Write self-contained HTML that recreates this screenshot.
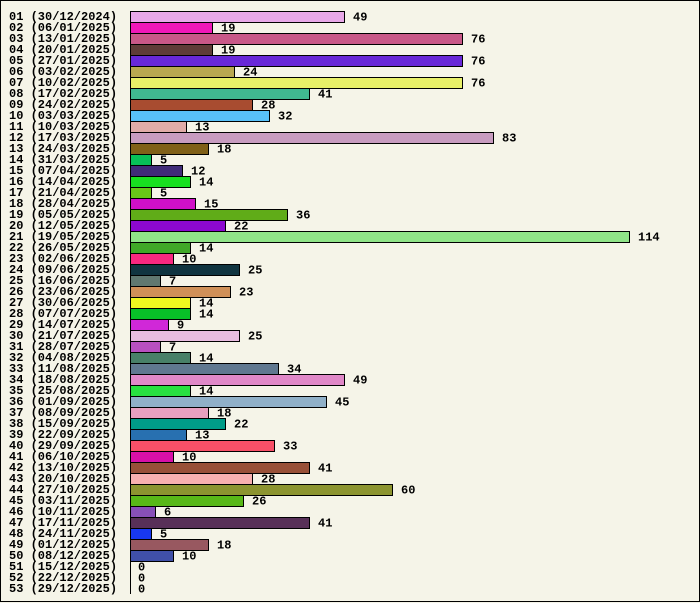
<!DOCTYPE html>
<html><head><meta charset="utf-8"><style>
body{margin:0;background:#f5f4e8}
svg{display:block}
text{font-family:"Liberation Mono",monospace;font-weight:bold;font-size:12px;fill:#000}
</style></head><body>
<svg width="700" height="603" viewBox="0 0 700 603" xmlns="http://www.w3.org/2000/svg">
<rect x="0.5" y="0.5" width="699" height="601" fill="#f5f4e8" stroke="#000"/>
<g id="g"></g>
<line x1="130.5" y1="11" x2="130.5" y2="594" stroke="#000"/>
</svg>
<script>
const d=[
["01 (30/12/2024)",49,"#e8a8e8"],["02 (06/01/2025)",19,"#f018b8"],["03 (13/01/2025)",76,"#c85888"],["04 (20/01/2025)",19,"#5e3c38"],
["05 (27/01/2025)",76,"#6828d8"],["06 (03/02/2025)",24,"#b8a850"],["07 (10/02/2025)",76,"#e8f068"],["08 (17/02/2025)",41,"#40b890"],
["09 (24/02/2025)",28,"#a84c30"],["10 (03/03/2025)",32,"#58c0f8"],["11 (10/03/2025)",13,"#e0aca8"],["12 (17/03/2025)",83,"#c89cc0"],
["13 (24/03/2025)",18,"#806018"],["14 (31/03/2025)",5,"#08c058"],["15 (07/04/2025)",12,"#402c78"],["16 (14/04/2025)",14,"#18e020"],
["17 (21/04/2025)",5,"#68c818"],["18 (28/04/2025)",15,"#d010c8"],["19 (05/05/2025)",36,"#60ac18"],["20 (12/05/2025)",22,"#8c08d0"],
["21 (19/05/2025)",114,"#90e488"],["22 (26/05/2025)",14,"#40a828"],["23 (02/06/2025)",10,"#f82880"],["24 (09/06/2025)",25,"#103440"],
["25 (16/06/2025)",7,"#607870"],["26 (23/06/2025)",23,"#d09058"],["27 (30/06/2025)",14,"#f0f820"],["28 (07/07/2025)",14,"#08c028"],
["29 (14/07/2025)",9,"#d028d8"],["30 (21/07/2025)",25,"#e8bce0"],["31 (28/07/2025)",7,"#b850c0"],["32 (04/08/2025)",14,"#488068"],
["33 (11/08/2025)",34,"#607890"],["34 (18/08/2025)",49,"#e088c8"],["35 (25/08/2025)",14,"#28e040"],["36 (01/09/2025)",45,"#90b0c8"],
["37 (08/09/2025)",18,"#e8a0c0"],["38 (15/09/2025)",22,"#009c88"],["39 (22/09/2025)",13,"#2870b0"],["40 (29/09/2025)",33,"#f85068"],
["41 (06/10/2025)",10,"#d810a8"],["42 (13/10/2025)",41,"#985038"],["43 (20/10/2025)",28,"#f8b0b0"],["44 (27/10/2025)",60,"#8c9430"],
["45 (03/11/2025)",26,"#58b818"],["46 (10/11/2025)",6,"#8850b8"],["47 (17/11/2025)",41,"#583058"],["48 (24/11/2025)",5,"#1838f0"],
["49 (01/12/2025)",18,"#985860"],["50 (08/12/2025)",10,"#4050a8"],["51 (15/12/2025)",0,""],["52 (22/12/2025)",0,""],["53 (29/12/2025)",0,""]];
const k=500/114;let s="";
d.forEach((r,i)=>{const y=11+i*11;const w=Math.round(r[1]*k);
s+=`<text x="9" y="${y+9}">${r[0]}</text>`;
if(w>0)s+=`<rect x="130.5" y="${y+0.5}" width="${w-1}" height="11" fill="${r[2]}" stroke="#000"/>`;
s+=`<text x="${130+w+8}" y="${y+9.5}">${r[1]}</text>`;});
document.getElementById("g").innerHTML=s;
</script>
</body></html>
